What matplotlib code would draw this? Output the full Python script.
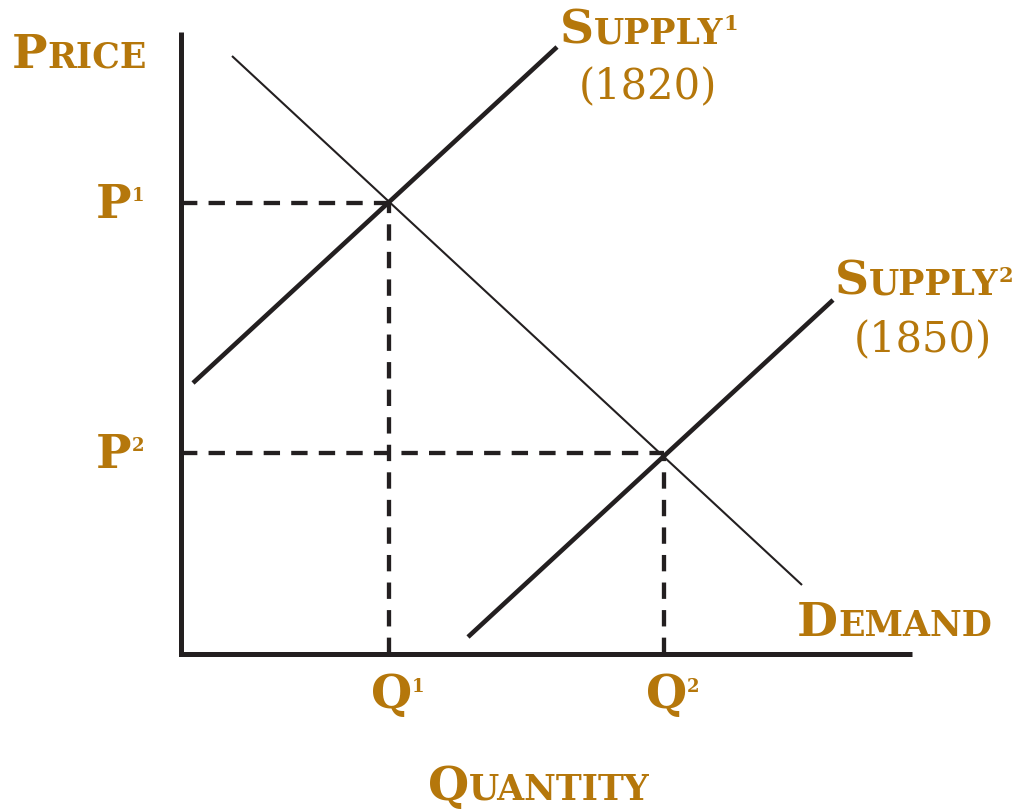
import matplotlib.pyplot as plt

# curve end points as (quantity, price), measured from the axis corner
demand_q = [51, 621]
demand_p = [598, 69]
supply1_q = [12, 376]
supply1_p = [271, 607]
supply2_q = [287, 652]
supply2_p = [17, 354]

# equilibrium points
eq_q = [208, 483]
eq_p = [451, 201]
eq_names = ['1', '2']

axis_q = 731
axis_p = 622

ink = '#231f20'
gold = '#b5770b'

fig = plt.figure(figsize=(10.16, 8.12), dpi=100)
ax = fig.add_axes([0, 0, 1, 1])
ax.set_xlim(-181, 835)
ax.set_ylim(-157, 655)
ax.axis('off')

# axes
ax.plot([0, 0, axis_q], [axis_p, 0, 0], color=ink, lw=3.6,
        solid_joinstyle='miter', solid_capstyle='butt')

# dashed guides
for q, p in zip(eq_q, eq_p):
    ax.plot([0, q], [p, p], color=ink, lw=3.1, dashes=(3.8, 2.6),
            dash_capstyle='butt')
    ax.plot([q, q], [0, p], color=ink, lw=3.1, dashes=(3.8, 2.6),
            dash_capstyle='butt')

ax.plot(demand_q, demand_p, color=ink, lw=1.5, solid_capstyle='butt')
ax.plot(supply1_q, supply1_p, color=ink, lw=3.3, solid_capstyle='butt')
ax.plot(supply2_q, supply2_p, color=ink, lw=3.3, solid_capstyle='butt')

renderer = fig.canvas.get_renderer()
inv = ax.transData.inverted()


def label(x, y, parts):
    # draw text pieces one after another on a shared baseline
    for s, size, rise in parts:
        t = ax.text(x, y + rise, s, fontsize=size, color=gold,
                    family='DejaVu Serif', weight='bold', va='baseline')
        bb = t.get_window_extent(renderer)
        x0 = inv.transform((bb.x0, 0))[0]
        x1 = inv.transform((bb.x1, 0))[0]
        x += x1 - x0


def small_caps(x, y, word, big=34, small=25, sup=None, sup_size=15, sup_rise=13):
    parts = [(word[0], big, 0), (word[1:], small, 0)]
    if sup:
        parts.append((sup, sup_size, sup_rise))
    label(x, y, parts)


small_caps(-169, 587, 'PRICE')
small_caps(247, -145, 'QUANTITY')
small_caps(616, 19, 'DEMAND')
small_caps(379, 612, 'SUPPLY', sup='1')
small_caps(654, 360, 'SUPPLY', sup='2')

ax.text(467, 556, '(1820)', fontsize=30, color=gold, family='DejaVu Serif',
        ha='center', va='baseline')
ax.text(742, 303, '(1850)', fontsize=30, color=gold, family='DejaVu Serif',
        ha='center', va='baseline')

for q, p, n in zip(eq_q, eq_p, eq_names):
    label(-85, p - 14, [('P', 34, 0), (n, 13, 17)])
    label(q - 18, -53, [('Q', 34, 0), (n, 13, 16)])

fig.savefig('out.png', dpi=100, facecolor='white')
